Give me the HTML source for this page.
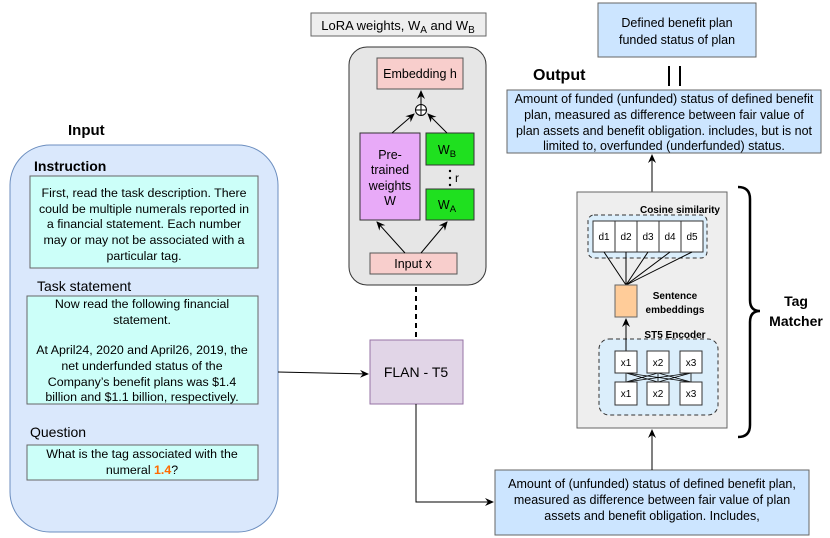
<!DOCTYPE html>
<html><head><meta charset="utf-8"><style>
html,body{margin:0;padding:0;background:#fff;}
svg{display:block;font-family:"Liberation Sans",Arial,sans-serif;}
</style></head><body>
<svg width="830" height="538" viewBox="0 0 830 538" xmlns="http://www.w3.org/2000/svg">
<defs>
<marker id="ar" markerWidth="10" markerHeight="10" refX="8" refY="5" orient="auto" markerUnits="userSpaceOnUse">
<path d="M0,1 L9,5 L0,9 L3,5 Z" fill="#000"/></marker>
</defs>
<!-- Input -->
<text x="68" y="135" font-size="15" font-weight="bold">Input</text>
<rect x="10" y="145" width="268" height="387" rx="40" fill="#dae8fc" stroke="#6c8ebf"/>
<text x="34" y="171" font-size="14" font-weight="bold">Instruction</text>
<rect x="30" y="176" width="228" height="92" fill="#ccfff9" stroke="#666"/>
<g font-size="12.4" text-anchor="middle">
<text x="144" y="197">First, read the task description. There</text>
<text x="144" y="213">could be multiple numerals reported in</text>
<text x="144" y="228">a financial statement. Each number</text>
<text x="144" y="244">may or may not be associated with a</text>
<text x="144" y="260">particular tag.</text>
</g>
<text x="37" y="291" font-size="14">Task statement</text>
<rect x="27" y="296" width="231" height="108" fill="#ccfff9" stroke="#666"/>
<g font-size="12.4" text-anchor="middle">
<text x="142" y="308">Now read the following financial</text>
<text x="142" y="324">statement.</text>
<text x="142" y="354">At April24, 2020 and April26, 2019, the</text>
<text x="142" y="370">net underfunded status of the</text>
<text x="142" y="386">Company’s benefit plans was $1.4</text>
<text x="142" y="401">billion and $1.1 billion, respectively.</text>
</g>
<text x="30" y="437" font-size="14">Question</text>
<rect x="27" y="445" width="231" height="35" fill="#ccfff9" stroke="#666"/>
<g font-size="12.4" text-anchor="middle">
<text x="142" y="458">What is the tag associated with the</text>
<text x="142" y="474">numeral <tspan fill="#ff6a00" font-weight="bold">1.4</tspan>?</text>
</g>
<line x1="278" y1="372" x2="368" y2="374" stroke="#000" marker-end="url(#ar)"/>
<!-- FLAN -->
<rect x="370" y="340" width="93" height="64" fill="#e1d5e7" stroke="#9673a6"/>
<text x="416" y="377" font-size="14" text-anchor="middle">FLAN - T5</text>
<line x1="416" y1="278" x2="416" y2="340" stroke="#000" stroke-width="2" stroke-dasharray="5,4"/>
<polyline points="416,404 416,502 493,502" fill="none" stroke="#000" marker-end="url(#ar)"/>
<!-- LoRA -->
<rect x="311" y="13" width="175" height="23" fill="#eeeeee" stroke="#666"/>
<text x="398" y="30" font-size="13" text-anchor="middle">LoRA weights, W<tspan font-size="10" dy="3">A</tspan><tspan dy="-3"> and W</tspan><tspan font-size="10" dy="3">B</tspan></text>
<rect x="349" y="47" width="137" height="238" rx="18" fill="#e6e6e6" stroke="#333"/>
<rect x="377" y="58" width="86" height="31" fill="#f8cecc" stroke="#555"/>
<text x="420" y="78" font-size="12.5" text-anchor="middle">Embedding h</text>
<rect x="360" y="133" width="60" height="87" fill="#e8aaf8" stroke="#333"/>
<g font-size="12.5" text-anchor="middle">
<text x="390" y="159">Pre-</text><text x="390" y="174">trained</text><text x="390" y="190">weights</text><text x="390" y="205">W</text>
</g>
<rect x="426" y="133" width="48" height="32" fill="#1fe01f" stroke="#333"/>
<text x="447" y="154" font-size="12.5" text-anchor="middle">W<tspan font-size="9.5" dy="3">B</tspan></text>
<rect x="426" y="189" width="48" height="31" fill="#1fe01f" stroke="#333"/>
<text x="447" y="209" font-size="12.5" text-anchor="middle">W<tspan font-size="9.5" dy="3">A</tspan></text>
<circle cx="450" cy="171" r="1.2"/><circle cx="450" cy="178" r="1.2"/><circle cx="450" cy="185" r="1.2"/>
<text x="455" y="182" font-size="12">r</text>
<rect x="370" y="253" width="87" height="21" fill="#f8cecc" stroke="#555"/>
<text x="413" y="268" font-size="12.5" text-anchor="middle">Input x</text>
<line x1="405" y1="253" x2="377" y2="222" stroke="#000" marker-end="url(#ar)"/>
<line x1="421" y1="253" x2="447" y2="222" stroke="#000" marker-end="url(#ar)"/>
<line x1="392" y1="133" x2="414" y2="114" stroke="#000" marker-end="url(#ar)"/>
<line x1="447" y1="133" x2="428" y2="114" stroke="#000" marker-end="url(#ar)"/>
<circle cx="421" cy="110" r="5.5" fill="#fff" stroke="#000"/>
<line x1="415.5" y1="110" x2="426.5" y2="110" stroke="#000"/><line x1="421" y1="104.5" x2="421" y2="115.5" stroke="#000"/>
<line x1="421" y1="104" x2="421" y2="91" stroke="#000" marker-end="url(#ar)"/>
<!-- Output -->
<text x="533" y="80" font-size="16" font-weight="bold">Output</text>
<rect x="598" y="3" width="158" height="54" fill="#cce5ff" stroke="#666"/>
<g font-size="12.5" text-anchor="middle">
<text x="677" y="27">Defined benefit plan</text><text x="677" y="44">funded status of plan</text>
</g>
<line x1="669" y1="66" x2="669" y2="86" stroke="#000" stroke-width="2"/>
<line x1="680" y1="66" x2="680" y2="86" stroke="#000" stroke-width="2"/>
<rect x="507" y="90" width="314" height="63" fill="#cce5ff" stroke="#666"/>
<g font-size="12.5" text-anchor="middle">
<text x="664" y="103">Amount of funded (unfunded) status of defined benefit</text>
<text x="664" y="119">plan, measured as difference between fair value of</text>
<text x="664" y="135">plan assets and benefit obligation. includes, but is not</text>
<text x="664" y="150">limited to, overfunded (underfunded) status.</text>
</g>
<line x1="652" y1="192" x2="652" y2="155" stroke="#000" marker-end="url(#ar)"/>
<!-- Bottom box -->
<rect x="495" y="470" width="314" height="65" fill="#cce5ff" stroke="#666"/>
<g font-size="12.5" text-anchor="middle">
<text x="652" y="488">Amount of (unfunded) status of defined benefit plan,</text>
<text x="652" y="504">measured as difference between fair value of plan</text>
<text x="652" y="520">assets and benefit obligation. Includes,</text>
</g>
<line x1="652" y1="470" x2="652" y2="430" stroke="#000" marker-end="url(#ar)"/>
<!-- Tag matcher -->
<rect x="577" y="192" width="150" height="236" fill="#eeeeee" stroke="#666"/>
<text x="720" y="213" font-size="10" font-weight="bold" text-anchor="end">Cosine similarity</text>
<rect x="588" y="215" width="119" height="43" rx="6" fill="#dbeefb" stroke="#333" stroke-dasharray="4,3"/>
<g font-size="10" text-anchor="middle">
<rect x="593" y="221" width="22" height="31" fill="#fff" stroke="#333"/><text x="604" y="240">d1</text>
<rect x="615" y="221" width="22" height="31" fill="#fff" stroke="#333"/><text x="626" y="240">d2</text>
<rect x="637" y="221" width="22" height="31" fill="#fff" stroke="#333"/><text x="648" y="240">d3</text>
<rect x="659" y="221" width="22" height="31" fill="#fff" stroke="#333"/><text x="670" y="240">d4</text>
<rect x="681" y="221" width="22" height="31" fill="#fff" stroke="#333"/><text x="692" y="240">d5</text>
</g>
<g stroke="#000">
<line x1="604" y1="252" x2="626" y2="285"/><line x1="626" y1="252" x2="626" y2="285"/>
<line x1="648" y1="252" x2="626" y2="285"/><line x1="670" y1="252" x2="626" y2="285"/><line x1="692" y1="252" x2="626" y2="285"/>
</g>
<rect x="615" y="285" width="22" height="32" fill="#ffcc99" stroke="#666"/>
<g font-size="10" font-weight="bold" text-anchor="middle">
<text x="675" y="299">Sentence</text><text x="675" y="313">embeddings</text>
<text x="675" y="338">ST5 Encoder</text>
</g>
<rect x="599" y="339" width="119" height="76" rx="10" fill="#dbeefb" stroke="#333" stroke-dasharray="4,3"/>
<line x1="626" y1="351" x2="626" y2="319" stroke="#000" marker-end="url(#ar)"/>
<g stroke="#000" stroke-width="0.8">
<line x1="626" y1="373" x2="691" y2="382"/><line x1="626" y1="373" x2="658" y2="382"/>
<line x1="658" y1="373" x2="626" y2="382"/><line x1="658" y1="373" x2="691" y2="382"/>
<line x1="691" y1="373" x2="626" y2="382"/><line x1="691" y1="373" x2="658" y2="382"/>
<line x1="626" y1="373" x2="626" y2="382"/><line x1="658" y1="373" x2="658" y2="382"/><line x1="691" y1="373" x2="691" y2="382"/>
</g>
<g font-size="10" text-anchor="middle">
<rect x="615" y="351" width="22" height="22" fill="#fff" stroke="#333"/><text x="626" y="366">x1</text>
<rect x="647" y="351" width="22" height="22" fill="#fff" stroke="#333"/><text x="658" y="366">x2</text>
<rect x="680" y="351" width="22" height="22" fill="#fff" stroke="#333"/><text x="691" y="366">x3</text>
<rect x="615" y="382" width="22" height="23" fill="#fff" stroke="#333"/><text x="626" y="397">x1</text>
<rect x="647" y="382" width="22" height="23" fill="#fff" stroke="#333"/><text x="658" y="397">x2</text>
<rect x="680" y="382" width="22" height="23" fill="#fff" stroke="#333"/><text x="691" y="397">x3</text>
</g>
<path d="M738,187 Q750,187 750,199 L750,300 Q750,311 760,311 Q750,311 750,322 L750,425 Q750,437 738,437" fill="none" stroke="#000" stroke-width="2.5"/>
<g font-size="14" font-weight="bold" text-anchor="middle">
<text x="796" y="306">Tag</text><text x="796" y="326">Matcher</text>
</g>
</svg>
</body></html>
